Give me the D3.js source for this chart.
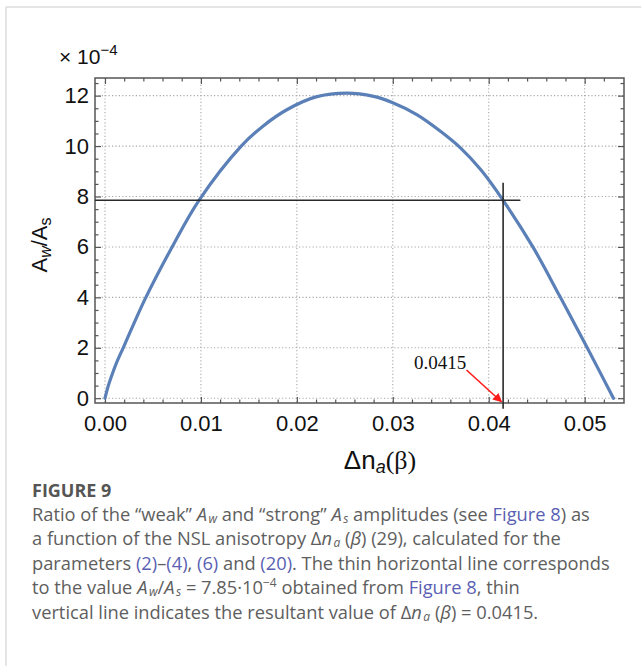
<!DOCTYPE html>
<html>
<head>
<meta charset="utf-8">
<script src="https://cdn.jsdelivr.net/npm/d3@7"></script>
<style>
  body { margin: 0; background: #fff; }
</style>
</head>
<body>
<svg id="chart" width="641" height="666"></svg>
<script>
// curve: anisotropy vs A_w/A_s (x 1e-4)
const deltaN = [0, 0.00035, 0.0008, 0.0012, 0.0019, 0.003, 0.0042, 0.0070,
  0.0098, 0.0142, 0.0165, 0.019, 0.022, 0.0252, 0.028, 0.030, 0.0325, 0.035,
  0.037, 0.0392, 0.0415, 0.0446, 0.0474, 0.0502, 0.053];
const ratio = [0, 0.5, 1.0, 1.4, 2.0, 2.95, 3.95, 6.0,
  7.85, 10.0, 10.8, 11.45, 11.95, 12.1, 11.97, 11.72, 11.25, 10.58,
  9.95, 9.05, 7.85, 6.0, 4.05, 2.05, 0];

const xTicks = [0, 0.01, 0.02, 0.03, 0.04, 0.05];
const xTickLabels = ["0.00", "0.01", "0.02", "0.03", "0.04", "0.05"];
const yTicks = [0, 2, 4, 6, 8, 10, 12];
const hLineValue = 7.85;   // measured A_w/A_s
const vLineValue = 0.0415; // resulting anisotropy

const svg = d3.select("#chart");
const plot = { left: 95, right: 624, top: 78, bottom: 403 };

const x = d3.scaleLinear().domain([-0.00104, 0.0541]).range([plot.left, plot.right]);
const y = d3.scaleLinear().domain([-0.19, 12.7]).range([plot.bottom, plot.top]);

const xMinor = d3.range(0.002, 0.0535, 0.002).filter(v => Math.abs(v / 0.01 - Math.round(v / 0.01)) > 1e-6);
const yMinor = d3.range(0.5, 12.6, 0.5).filter(v => v % 2 !== 0);

// page frame (card border)
svg.append("line").attr("x1", 6).attr("x2", 641).attr("y1", 7).attr("y2", 7)
  .attr("stroke", "#dcdcdc").attr("stroke-width", 1.5);
svg.append("line").attr("x1", 6).attr("x2", 6).attr("y1", 7).attr("y2", 666)
  .attr("stroke", "#dcdcdc").attr("stroke-width", 1.5);

// dotted grid
const grid = svg.append("g").attr("stroke", "#a8a8a8").attr("stroke-width", 1.1)
  .attr("stroke-dasharray", "1.2,2.2");
grid.selectAll(".gx").data(xTicks).enter().append("line")
  .attr("x1", d => x(d)).attr("x2", d => x(d))
  .attr("y1", plot.top).attr("y2", plot.bottom);
grid.selectAll(".gy").data(yTicks).enter().append("line")
  .attr("x1", plot.left).attr("x2", plot.right)
  .attr("y1", d => y(d)).attr("y2", d => y(d));

// frame with inward ticks on all sides
function styleAxis(g) {
  g.select(".domain").remove();
  g.selectAll("line").attr("stroke", "#555").attr("stroke-width", 1.2);
  g.selectAll("text").attr("font-family", "Liberation Sans, Arial, sans-serif")
    .attr("font-size", 22).attr("fill", "#111");
}
svg.append("g").attr("transform", `translate(0,${plot.bottom})`)
  .call(d3.axisBottom(x).tickValues(xTicks).tickSize(-6)
    .tickFormat((d, i) => xTickLabels[i]))
  .call(styleAxis)
  .call(g => g.selectAll("text").attr("dy", "0.71em").attr("y", 12));
svg.append("g").attr("transform", `translate(0,${plot.bottom})`)
  .call(d3.axisBottom(x).tickValues(xMinor).tickSize(-3.5).tickFormat(""))
  .call(styleAxis);
svg.append("g").attr("transform", `translate(0,${plot.top})`)
  .call(d3.axisTop(x).tickValues(xTicks).tickSize(-6).tickFormat(""))
  .call(styleAxis);
svg.append("g").attr("transform", `translate(0,${plot.top})`)
  .call(d3.axisTop(x).tickValues(xMinor).tickSize(-3.5).tickFormat(""))
  .call(styleAxis);
svg.append("g").attr("transform", `translate(${plot.left},0)`)
  .call(d3.axisLeft(y).tickValues(yTicks).tickSize(-6))
  .call(styleAxis)
  .call(g => g.selectAll("text").attr("x", -6));
svg.append("g").attr("transform", `translate(${plot.left},0)`)
  .call(d3.axisLeft(y).tickValues(yMinor).tickSize(-3.5).tickFormat(""))
  .call(styleAxis);
svg.append("g").attr("transform", `translate(${plot.right},0)`)
  .call(d3.axisRight(y).tickValues(yTicks).tickSize(-6).tickFormat(""))
  .call(styleAxis);
svg.append("g").attr("transform", `translate(${plot.right},0)`)
  .call(d3.axisRight(y).tickValues(yMinor).tickSize(-3.5).tickFormat(""))
  .call(styleAxis);

svg.append("rect")
  .attr("x", plot.left).attr("y", plot.top)
  .attr("width", plot.right - plot.left).attr("height", plot.bottom - plot.top)
  .attr("fill", "none").attr("stroke", "#555").attr("stroke-width", 1.5);

// curve
const line = d3.line().x((d, i) => x(deltaN[i])).y(d => y(d)).curve(d3.curveCatmullRom.alpha(0.5));
svg.append("path").datum(ratio)
  .attr("d", line)
  .attr("fill", "none").attr("stroke", "#5b80b8").attr("stroke-width", 3.2)
  .attr("stroke-linecap", "round");

// thin reference lines
svg.append("line")
  .attr("x1", plot.left).attr("x2", x(0.0433))
  .attr("y1", y(hLineValue)).attr("y2", y(hLineValue))
  .attr("stroke", "#2a2a2a").attr("stroke-width", 1.6);
svg.append("line")
  .attr("x1", x(vLineValue)).attr("x2", x(vLineValue))
  .attr("y1", y(8.55)).attr("y2", y(-0.42))
  .attr("stroke", "#2a2a2a").attr("stroke-width", 1.6);

// red arrow + annotation
svg.append("defs").append("marker")
  .attr("id", "arrowhead").attr("viewBox", "0 0 10 10")
  .attr("refX", 9).attr("refY", 5)
  .attr("markerWidth", 9).attr("markerHeight", 9)
  .attr("markerUnits", "userSpaceOnUse")
  .attr("orient", "auto")
  .append("path").attr("d", "M0,0 L10,5 L0,10 Z").attr("fill", "#ff1a1a");
svg.append("line")
  .attr("x1", x(0.03768)).attr("y1", y(1.12))
  .attr("x2", x(0.04132)).attr("y2", y(-0.14))
  .attr("stroke", "#ff1a1a").attr("stroke-width", 1.6)
  .attr("marker-end", "url(#arrowhead)");
svg.append("text")
  .attr("x", x(0.03765)).attr("y", y(1.15))
  .attr("text-anchor", "end")
  .attr("font-family", "Liberation Serif, Times New Roman, serif")
  .attr("font-size", 19).attr("fill", "#111")
  .text("0.0415");

// multiplier
const mult = svg.append("text").attr("x", 59).attr("y", 64)
  .attr("font-family", "Liberation Sans, Arial, sans-serif").attr("font-size", 21).attr("fill", "#111");
mult.append("tspan").text("\u00d7 10");
mult.append("tspan").attr("font-size", 15).attr("dy", -9).text("\u22124");

// axis titles
const yl = svg.append("text").attr("transform", "translate(47,245) rotate(-90)")
  .attr("text-anchor", "middle")
  .attr("font-family", "Liberation Sans, Arial, sans-serif").attr("font-size", 22).attr("fill", "#111");
yl.append("tspan").text("A");
yl.append("tspan").attr("font-size", 16).attr("font-style", "italic").attr("dy", 4).text("w");
yl.append("tspan").attr("dy", -4).text("/A");
yl.append("tspan").attr("font-size", 16).attr("dy", 4).text("s");

const xl = svg.append("text").attr("x", 380).attr("y", 469)
  .attr("text-anchor", "middle")
  .attr("font-family", "Liberation Sans, Arial, sans-serif").attr("font-size", 26).attr("fill", "#111");
xl.append("tspan").text("\u0394n");
xl.append("tspan").attr("font-size", 18).attr("font-style", "italic").attr("dy", 4).text("a");
xl.append("tspan").attr("dy", -4).attr("font-family", "Liberation Serif, Times New Roman, serif").text("(\u03b2)");

// caption
const capFont = "Open Sans, Noto Sans, sans-serif";
const grey = "#5e5e5e", link = "#5a5fb3";
svg.append("text").attr("x", 32).attr("y", 497)
  .attr("font-family", capFont).attr("font-size", 18).attr("font-weight", 700)
  .attr("fill", "#555").text("FIGURE 9");

const captionLines = [
  [["Ratio of the \u201cweak\u201d "], ["A", "i"], ["w", "sub"], [" and \u201cstrong\u201d "], ["A", "i"], ["s", "sub"],
   [" amplitudes (see "], ["Figure 8", "link"], [") as"]],
  [["a function of the NSL anisotropy \u0394"], ["n", "i"], ["a", "sub"], [" ("], ["\u03b2", "i"],
   [") (29), calculated for the"]],
  [["parameters "], ["(2)", "link"], ["\u2013"], ["(4)", "link"], [", "], ["(6)", "link"], [" and "],
   ["(20)", "link"], [". The thin horizontal line corresponds"]],
  [["to the value "], ["A", "i"], ["w", "sub"], ["/"], ["A", "i"], ["s", "sub"], [" = 7.85\u00b710"],
   ["\u22124", "sup"], [" obtained from "], ["Figure 8", "link"], [", thin"]],
  [["vertical line indicates the resultant value of \u0394"], ["n", "i"], ["a", "sub"], [" ("], ["\u03b2", "i"],
   [") = 0.0415."]]
];
captionLines.forEach((parts, li) => {
  const t = svg.append("text").attr("x", 32).attr("y", 521 + li * 24.4)
    .attr("font-family", capFont).attr("font-size", 18.3).attr("fill", grey);
  let shift = 0;
  parts.forEach(([str, kind]) => {
    const s = t.append("tspan").text(str);
    let target = 0;
    if (kind === "i") s.attr("font-style", "italic");
    if (kind === "link") s.attr("fill", link);
    if (kind === "sub") { s.attr("font-size", 12).attr("font-style", "italic").attr("dx", 1.5); target = 2; }
    if (kind === "sup") { s.attr("font-size", 12); target = -7; }
    if (target !== shift) { s.attr("dy", target - shift); shift = target; }
  });
});
</script>
</body>
</html>
